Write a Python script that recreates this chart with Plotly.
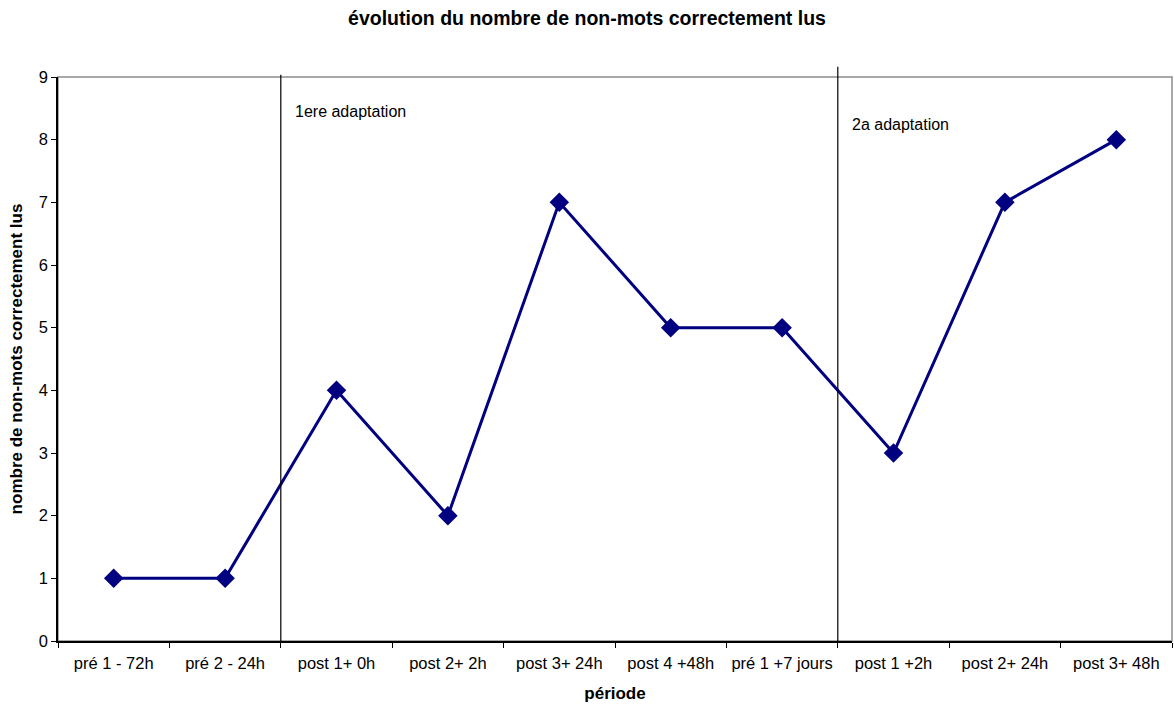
import plotly.graph_objects as go

categories = ["pré 1 - 72h", "pré 2 - 24h", "post 1+ 0h", "post 2+ 2h", "post 3+ 24h",
              "post 4 +48h", "pré 1 +7 jours", "post 1 +2h", "post 2+ 24h", "post 3+ 48h"]
values = [1, 1, 4, 2, 7, 5, 5, 3, 7, 8]
adaptations = [("post 1+ 0h", "1ere adaptation"), ("post 1 +2h", "2a adaptation")]

FONT = "Liberation Sans, Arial, sans-serif"

fig = go.Figure()
fig.add_trace(go.Scatter(
    x=categories, y=values, mode="lines+markers",
    line=dict(color="#000080", width=3),
    marker=dict(symbol="diamond", size=15, color="#000080"),
    showlegend=False, cliponaxis=False,
))

# plot area border (gray top/right)
fig.add_shape(type="rect", xref="paper", yref="paper", x0=0, x1=1, y0=0, y1=1,
              line=dict(color="#8c8c8c", width=1.5), layer="below")

line_tops = [1.004, 1.018]
ann_y = [8.45, 8.25]
for (cat, label), top, ay in zip(adaptations, line_tops, ann_y):
    xb = categories.index(cat) / len(categories)
    fig.add_shape(type="line", xref="paper", yref="paper", x0=xb, x1=xb, y0=0, y1=top,
                  line=dict(color="#000000", width=1.2))
    fig.add_annotation(x=xb + 0.011, y=ay, xref="paper", yref="y", text=label,
                       showarrow=False, xanchor="left",
                       font=dict(family=FONT, size=16, color="#000"))

fig.update_layout(
    width=1174, height=711,
    margin=dict(l=58, r=2, t=77, b=70),
    paper_bgcolor="white", plot_bgcolor="white",
    font=dict(family=FONT, size=16, color="#000"),
    title=dict(text="<b>évolution du nombre de non-mots correctement lus</b>",
               x=0.5, xref="container", xanchor="center", y=0.975, yanchor="middle",
               font=dict(family=FONT, size=19.5, color="#000")),
    xaxis=dict(type="category", tickson="boundaries", ticks="outside", ticklen=5,
               tickcolor="#000", showline=True, linecolor="#000", linewidth=1.5,
               showgrid=False, zeroline=False, range=[-0.5, 9.5],
               ticklabelstandoff=6,
               tickfont=dict(family=FONT, size=16.5),
               title=dict(text="<b>période</b>", font=dict(family=FONT, size=17), standoff=17)),
    yaxis=dict(range=[0, 9], dtick=1, ticks="outside", ticklen=5, tickcolor="#000",
               showline=True, linecolor="#000", linewidth=1.5, showgrid=False, zeroline=False,
               tickfont=dict(family=FONT, size=16.5),
               title=dict(text="<b>nombre de non-mots correctement lus</b>",
                          font=dict(family=FONT, size=17), standoff=12)),
)

fig.write_html("out.html")
